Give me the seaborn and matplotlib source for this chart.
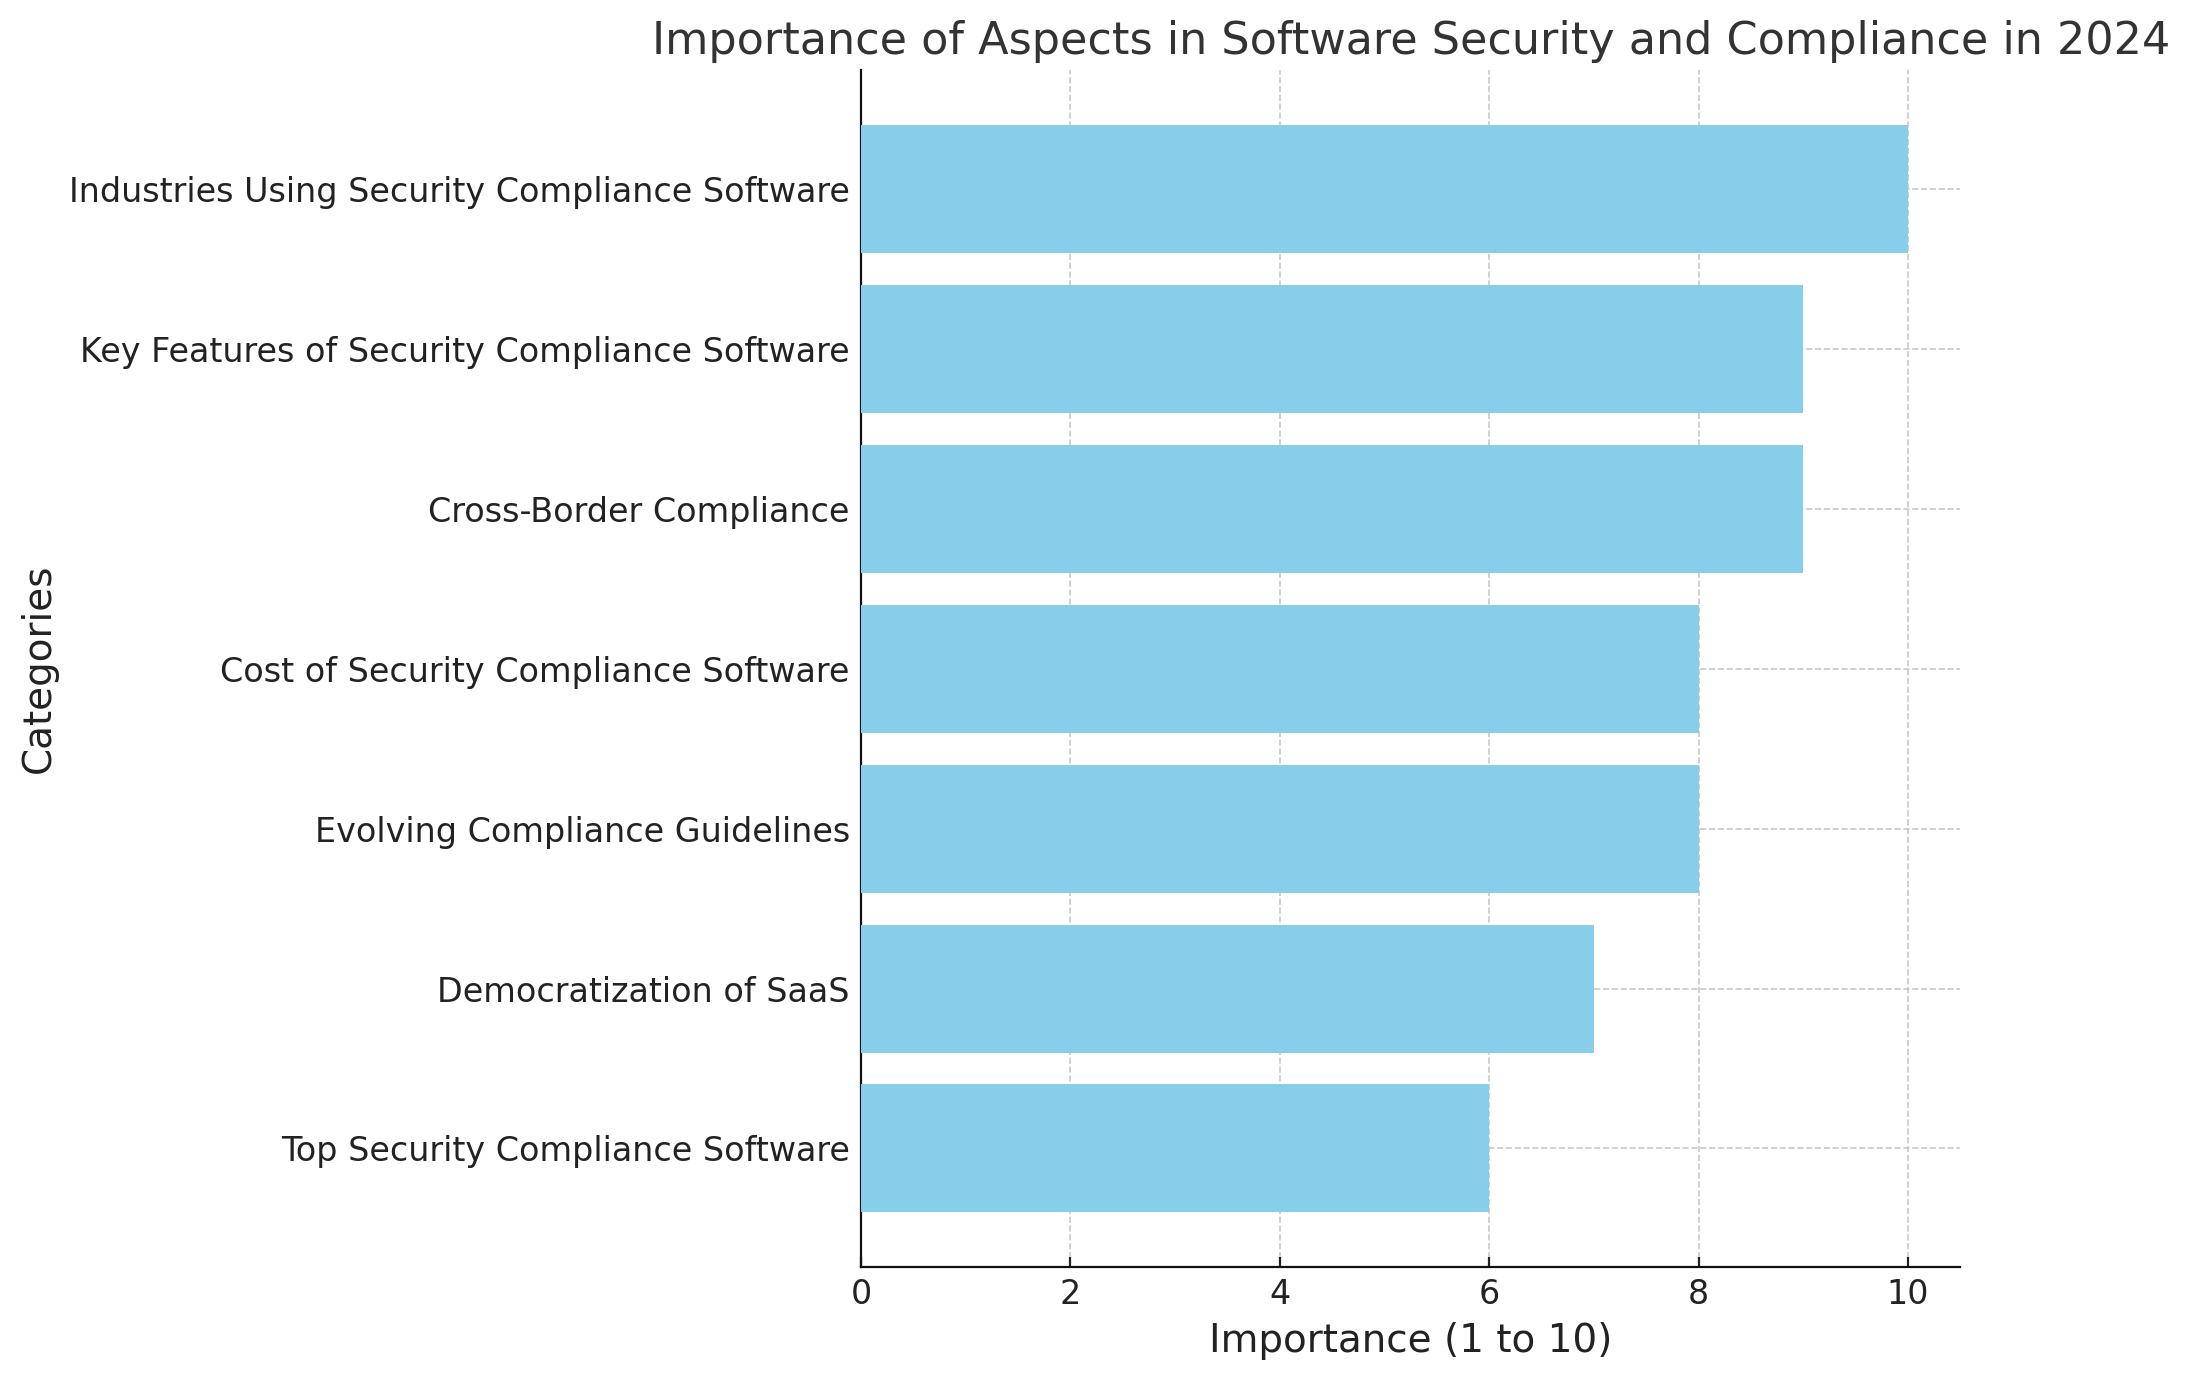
import matplotlib
matplotlib.use("Agg")
import matplotlib.pyplot as plt
import seaborn as sns
import pandas as pd

# Chart data
categories = [
    "Industries Using Security Compliance Software",
    "Key Features of Security Compliance Software",
    "Cross-Border Compliance",
    "Cost of Security Compliance Software",
    "Evolving Compliance Guidelines",
    "Democratization of SaaS",
    "Top Security Compliance Software",
]
importance = [10, 9, 9, 8, 8, 7, 6]

df = pd.DataFrame({"Category": categories, "Importance": importance})

sns.set_style("ticks")
plt.rcParams['font.family'] = ['DejaVu Sans']

fig, ax = plt.subplots(figsize=(10.94, 6.9), dpi=200)
fig.subplots_adjust(left=0.3935, right=0.896, top=0.949, bottom=0.082)

sns.barplot(data=df, x="Importance", y="Category", color="skyblue",
            saturation=1, width=0.8, linewidth=0, ax=ax, zorder=3)

ax.set_xlim(0, 10.5)
ax.set_ylim(6.74, -0.74)
ax.set_axisbelow(True)
ax.grid(True, linestyle='--', color='#c8c8c8', linewidth=0.6, zorder=0)

ax.set_title("Importance of Aspects in Software Security and Compliance in 2024",
             fontsize=16, color='#333333')
ax.set_xlabel("Importance (1 to 10)", fontsize=14, color='#222222')
ax.set_ylabel("Categories", fontsize=14, color='#222222')
ax.tick_params(labelsize=12, colors='#222222', direction='in',
               length=3.5, width=0.8, pad=4)
for side in ['left', 'bottom']:
    ax.spines[side].set_color('#111111')
sns.despine(ax=ax)

fig.savefig("out.png", dpi=200)
